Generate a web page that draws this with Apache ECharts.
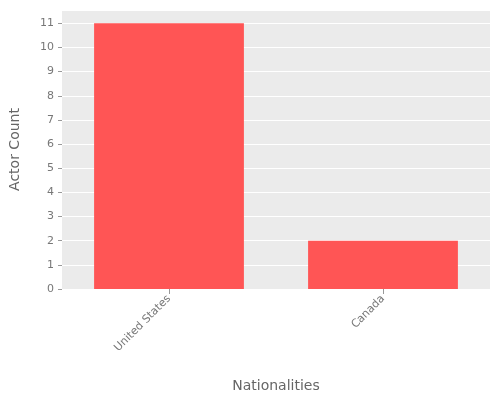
<!DOCTYPE html>
<html><head><meta charset="utf-8">
<script src="https://cdn.jsdelivr.net/npm/echarts@6/dist/echarts.min.js"></script>
<style>html,body{margin:0;padding:0}#c{width:500px;height:400px}</style></head>
<body><div id="c"></div>
<script>
const categories = ["United States", "Canada"];
const actorCounts = [11, 2];
const chart = echarts.init(document.getElementById('c'));
chart.setOption({
  backgroundColor: '#fff',
  grid: {left: 62, right: 10, top: 10, bottom: 111, backgroundColor: '#EBEBEB', show: true, borderWidth: 0},
  xAxis: {
    type: 'category', data: categories,
    name: 'Nationalities', nameLocation: 'middle', nameGap: 90,
    nameTextStyle: {color: '#666', fontSize: 14, fontFamily: 'DejaVu Sans'},
    axisLine: {show: false}, axisTick: {show: true, alignWithLabel: true, lineStyle: {color: '#999'}},
    axisLabel: {rotate: 45, color: '#777', fontSize: 11, fontFamily: 'DejaVu Sans'}
  },
  yAxis: {
    type: 'value', min: 0, max: 11.55, interval: 1,
    name: 'Actor Count', nameLocation: 'middle', nameGap: 40,
    nameTextStyle: {color: '#666', fontSize: 14, fontFamily: 'DejaVu Sans'},
    axisLine: {show: false}, axisTick: {show: true, lineStyle: {color: '#999'}, length: 4},
    axisLabel: {color: '#777', fontSize: 11, fontFamily: 'DejaVu Sans', showMaxLabel: false},
    splitLine: {lineStyle: {color: '#fff', width: 1}}
  },
  series: [{type: 'bar', data: actorCounts, barWidth: '70%', itemStyle: {color: '#FF5555'}}]
});
</script></body></html>
